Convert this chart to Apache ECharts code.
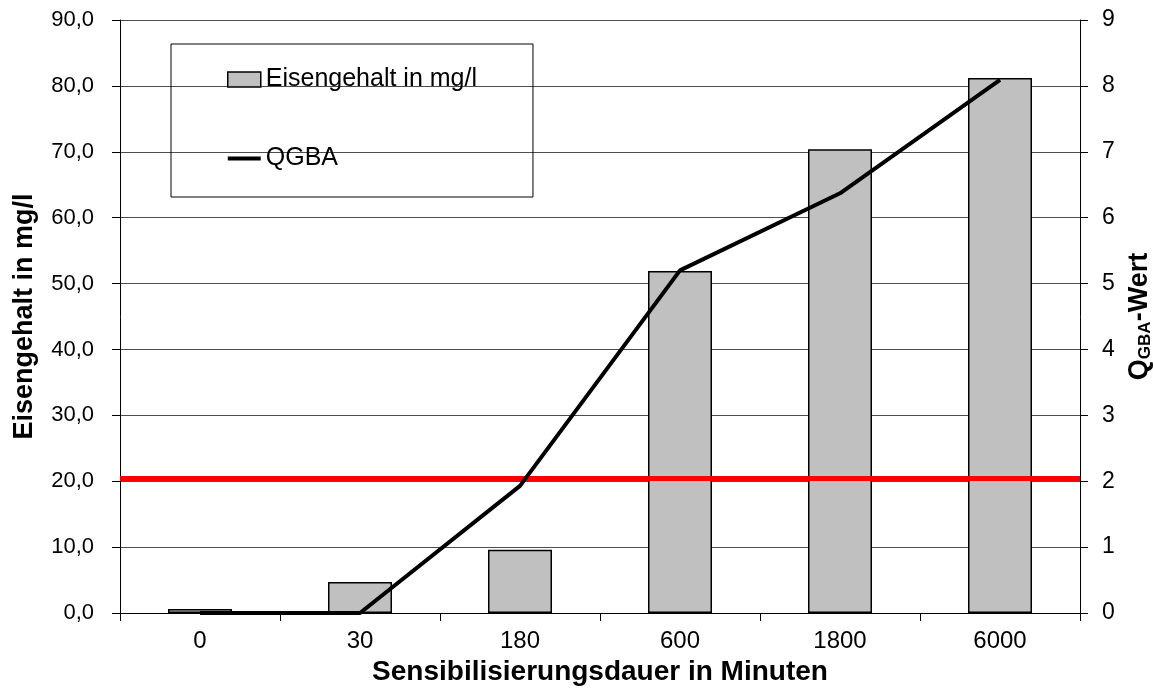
<!DOCTYPE html>
<html>
<head>
<meta charset="utf-8">
<script src="https://cdn.jsdelivr.net/npm/echarts@6/dist/echarts.min.js"></script>
<style>
html,body{margin:0;padding:0;background:#fff;}
#chart{width:1153px;height:695px;}
</style>
</head>
<body>
<div id="chart"></div>
<script>
const categories = ['0', '30', '180', '600', '1800', '6000'];
const eisengehalt = [0.6, 4.7, 9.6, 51.9, 70.4, 81.2];
const qgba = [0, 0, 1.93, 5.2, 6.37, 8.09];
const threshold = 2.04;
const leftTicks = [0, 10, 20, 30, 40, 50, 60, 70, 80, 90];
const rightTicks = [0, 1, 2, 3, 4, 5, 6, 7, 8, 9];

const FONT = 'Liberation Sans, Arial, sans-serif';
const chart = echarts.init(document.getElementById('chart'), null, {renderer: 'canvas'});
chart.setOption({
  animation: false,
  backgroundColor: '#fff',
  textStyle: {fontFamily: FONT, color: '#000'},
  grid: {left: 120, right: 73, top: 20, bottom: 82, containLabel: false, outerBoundsMode: 'none'},
  legend: {
    orient: 'vertical',
    left: 171, top: 44,
    padding: [23, 56, 26, 56],
    itemGap: 54,
    itemWidth: 33, itemHeight: 15,
    borderColor: '#000', borderWidth: 1,
    textStyle: {fontFamily: FONT, fontSize: 25, color: '#000'},
    data: [
      {name: 'Eisengehalt in mg/l', icon: 'rect', itemStyle: {color: '#c0c0c0', borderColor: '#000', borderWidth: 1.5}},
      {name: 'QGBA', icon: 'path://M0,0 L33,0 L33,4 L0,4 Z', itemStyle: {color: '#000'}}
    ]
  },
  xAxis: {
    type: 'category',
    data: categories,
    boundaryGap: true,
    name: 'Sensibilisierungsdauer in Minuten',
    nameLocation: 'middle',
    nameGap: 42,
    nameTextStyle: {fontFamily: FONT, fontSize: 28, fontWeight: 'bold', color: '#000'},
    axisLine: {lineStyle: {color: '#000', width: 1}},
    axisTick: {show: true, length: 8, lineStyle: {color: '#000'}},
    axisLabel: {fontFamily: FONT, fontSize: 24, color: '#000', margin: 16}
  },
  yAxis: [
    {
      type: 'value', min: 0, max: 90, interval: 10,
      name: 'Eisengehalt in mg/l',
      nameLocation: 'middle', nameGap: 82, nameRotate: 90,
      nameTextStyle: {fontFamily: FONT, fontSize: 27, fontWeight: 'bold', color: '#000'},
      axisLine: {show: true, lineStyle: {color: '#000', width: 1}},
      axisTick: {show: true, length: 8, lineStyle: {color: '#000'}},
      axisLabel: {fontFamily: FONT, fontSize: 22, color: '#000', margin: 26,
        formatter: v => leftTicks.includes(v) ? v.toFixed(1).replace('.', ',') : ''},
      splitLine: {show: true, lineStyle: {color: '#4d4d4d', width: 1}}
    },
    {
      type: 'value', min: 0, max: 9, interval: 1,
      name: '{q|Q}{s|GBA}{q|-Wert}',
      nameLocation: 'middle', nameGap: 34, nameRotate: 90,
      nameTextStyle: {
        fontFamily: FONT, fontSize: 27, fontWeight: 'bold', color: '#000',
        rich: {
          q: {fontFamily: FONT, fontSize: 27, fontWeight: 'bold', color: '#000'},
          s: {fontFamily: FONT, fontSize: 17, fontWeight: 'bold', color: '#000', verticalAlign: 'bottom', padding: [12, 0, 0, 0]}
        }
      },
      axisLine: {show: true, lineStyle: {color: '#000', width: 1}},
      axisTick: {show: true, length: 8, lineStyle: {color: '#000'}},
      axisLabel: {fontFamily: FONT, fontSize: 23, color: '#000', margin: 22,
        formatter: v => rightTicks.includes(v) ? String(v) : ''},
      splitLine: {show: false}
    }
  ],
  series: [
    {
      name: 'Eisengehalt in mg/l',
      type: 'bar',
      yAxisIndex: 0,
      data: eisengehalt,
      barWidth: '40%',
      itemStyle: {color: '#c0c0c0', borderColor: '#000', borderWidth: 1.5},
      z: 2
    },
    {
      name: 'QGBA',
      type: 'line',
      yAxisIndex: 1,
      data: qgba,
      symbol: 'none',
      lineStyle: {color: '#000', width: 4},
      itemStyle: {color: '#000'},
      z: 4,
      markLine: {
        silent: true,
        symbol: ['none', 'none'],
        label: {show: false},
        lineStyle: {color: '#ff0000', width: 5, type: 'solid'},
        data: [{yAxis: threshold}],
        z: 3
      }
    }
  ]
});
</script>
</body>
</html>
